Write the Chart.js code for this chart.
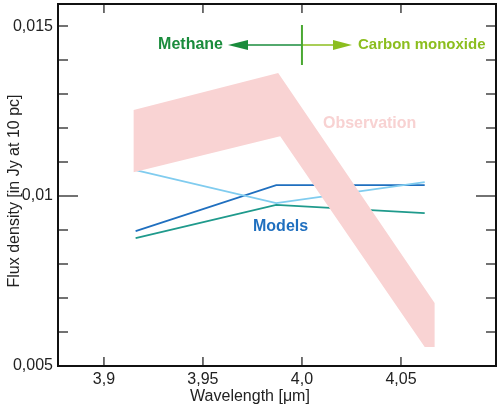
<!DOCTYPE html>
<html>
<head>
<meta charset="utf-8">
<script src="https://cdn.jsdelivr.net/npm/chart.js@4"></script>
<style>
  html, body { margin: 0; padding: 0; background: #fff; }
  #wrap { width: 500px; height: 409px; }
</style>
</head>
<body>
<div id="wrap"><canvas id="myChart" width="500" height="409"></canvas></div>
<script>
// axis ticks
const xTicks = [3.9, 3.95, 4.0, 4.05];
const xTickLabels = ['3,9', '3,95', '4,0', '4,05'];
const yTicks = [0.005, 0.01, 0.015];
const yTickLabels = ['0,005', '0,01', '0,015'];
const yMinorTicks = [0.006, 0.007, 0.008, 0.009, 0.011, 0.012, 0.013, 0.014];

// observation band (closed outline)
const obsX = [3.915, 3.988, 4.067, 4.067, 4.062, 3.989, 3.915, 3.915];
const obsY = [0.01253, 0.01362, 0.00685, 0.00556, 0.00556, 0.01176, 0.0107, 0.01253];

// models
const modelX = [3.916, 3.987, 4.062];
const modelLight = [0.01076, 0.00979, 0.01041];
const modelDark = [0.00897, 0.01032, 0.01032];
const modelTeal = [0.00876, 0.00974, 0.0095];

const pts = (xs, ys) => xs.map((x, i) => ({ x: x, y: ys[i] }));

const FONT = '"Liberation Sans", Arial, sans-serif';

const framePlugin = {
    id: 'frame',
    afterDraw(chart) {
        const c = chart.ctx;
        const a = chart.chartArea;
        const xs = chart.scales.x, ys = chart.scales.y;
        c.save();
        // ticks
        c.strokeStyle = '#444';
        c.lineWidth = 1.5;
        c.beginPath();
        xTicks.forEach(v => {
            const px = xs.getPixelForValue(v);
            c.moveTo(px, a.bottom); c.lineTo(px, a.bottom - 9);
            c.moveTo(px, a.top); c.lineTo(px, a.top + 9);
        });
        yMinorTicks.concat(yTicks).forEach(v => {
            const py = ys.getPixelForValue(v);
            const len = v === 0.01 ? 20 : 10;
            c.moveTo(a.left, py); c.lineTo(a.left + len, py);
            c.moveTo(a.right, py); c.lineTo(a.right - len, py);
        });
        c.stroke();
        // frame
        c.strokeStyle = '#111';
        c.lineWidth = 2;
        c.strokeRect(a.left, a.top, a.right - a.left, a.bottom - a.top);

        // axis titles
        c.fillStyle = '#222';
        c.font = '16px ' + FONT;
        c.textAlign = 'center';
        c.textBaseline = 'middle';
        c.fillText('Wavelength [\u03bcm]', 250, 397);
        c.save();
        c.translate(15, 191);
        c.rotate(-Math.PI / 2);
        c.fillText('Flux density [in Jy at 10 pc]', 0, 0);
        c.restore();

        // annotations
        const mid = xs.getPixelForValue(4.0);
        const ay = 45;
        c.lineWidth = 1.5;
        c.strokeStyle = '#1a8c3c';
        c.fillStyle = '#1a8c3c';
        c.beginPath(); c.moveTo(mid, ay); c.lineTo(246, ay); c.stroke();
        c.beginPath(); c.moveTo(228, ay); c.lineTo(248, ay - 5); c.lineTo(248, ay + 5); c.closePath(); c.fill();
        c.strokeStyle = '#8cbe1f';
        c.fillStyle = '#8cbe1f';
        c.beginPath(); c.moveTo(mid, ay); c.lineTo(336, ay); c.stroke();
        c.beginPath(); c.moveTo(352, ay); c.lineTo(333, ay - 5); c.lineTo(333, ay + 5); c.closePath(); c.fill();
        c.strokeStyle = '#4aa832';
        c.lineWidth = 2;
        c.beginPath(); c.moveTo(mid, 25); c.lineTo(mid, 65); c.stroke();

        c.font = 'bold 16px ' + FONT;
        c.textBaseline = 'middle';
        c.textAlign = 'right';
        c.fillStyle = '#1a8c3c';
        c.fillText('Methane', 223, 45);
        c.textAlign = 'left';
        c.fillStyle = '#f8d2d2';
        c.fillText('Observation', 323, 124);
        c.fillStyle = '#1f6fbf';
        c.fillText('Models', 253, 227);
        c.font = 'bold 15px ' + FONT;
        c.fillStyle = '#8cbe1f';
        c.fillText('Carbon monoxide', 358, 45);
        c.restore();
    }
};

const noPad = s => { s.paddingTop = 0; s.paddingBottom = 0; s.paddingLeft = 0; s.paddingRight = 0; };

const ctx = document.getElementById('myChart').getContext('2d');
const myChart = new Chart(ctx, {
    type: 'scatter',
    data: {
        datasets: [
            {
                data: pts(obsX, obsY),
                showLine: true,
                fill: 'shape',
                backgroundColor: '#f9d3d3',
                borderWidth: 0,
                borderColor: 'rgba(0,0,0,0)',
                pointRadius: 0
            },
            {
                data: pts(modelX, modelLight),
                showLine: true,
                borderColor: '#80ccef',
                borderWidth: 1.8,
                pointRadius: 0
            },
            {
                data: pts(modelX, modelDark),
                showLine: true,
                borderColor: '#1f6fbf',
                borderWidth: 1.8,
                pointRadius: 0
            },
            {
                data: pts(modelX, modelTeal),
                showLine: true,
                borderColor: '#1f9a8c',
                borderWidth: 1.8,
                pointRadius: 0
            }
        ]
    },
    options: {
        responsive: false,
        animation: false,
        layout: {
            padding: { top: 4, right: 4, left: 0, bottom: 0 }
        },
        plugins: {
            legend: { display: false },
            tooltip: { enabled: false }
        },
        scales: {
            x: {
                type: 'linear',
                min: 3.8768,
                max: 4.098,
                afterFit: s => { s.height = 43; noPad(s); },
                afterBuildTicks: s => { s.ticks = xTicks.map(v => ({ value: v })); },
                grid: { display: false, drawTicks: false, tickLength: 0 },
                border: { display: false },
                ticks: {
                    padding: 4,
                    color: '#222',
                    font: { family: FONT, size: 16 },
                    callback: v => xTickLabels[xTicks.indexOf(v)]
                }
            },
            y: {
                type: 'linear',
                min: 0.005,
                max: 0.01565,
                afterFit: s => { s.width = 58; noPad(s); },
                afterBuildTicks: s => { s.ticks = yTicks.map(v => ({ value: v })); },
                grid: { display: false, drawTicks: false, tickLength: 0 },
                border: { display: false },
                ticks: {
                    padding: 5,
                    color: '#222',
                    font: { family: FONT, size: 16 },
                    callback: v => yTickLabels[yTicks.indexOf(v)]
                }
            }
        }
    },
    plugins: [framePlugin]
});
</script>
</body>
</html>
